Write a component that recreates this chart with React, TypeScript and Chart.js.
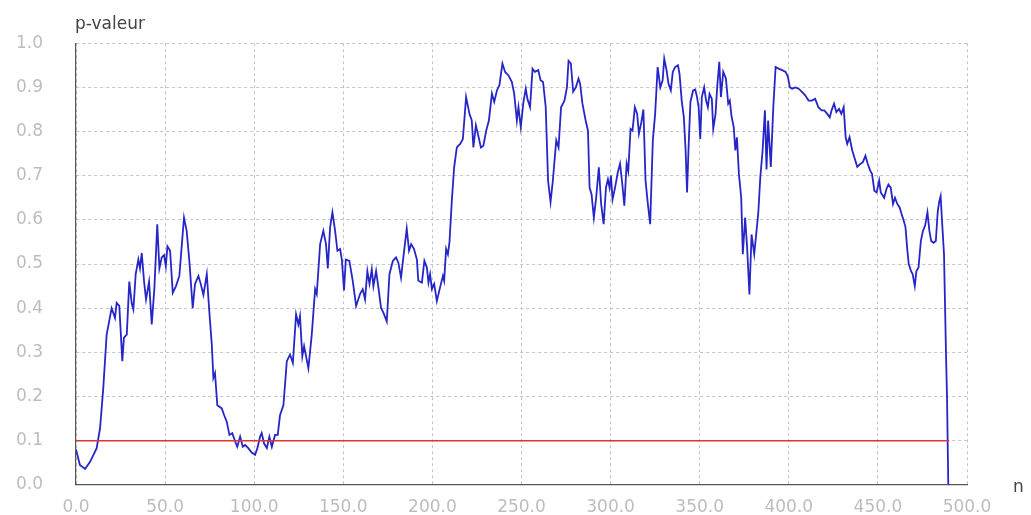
import React, { useEffect, useRef } from "react";
import { Chart, registerables } from "chart.js";

Chart.register(...registerables);

// n values (x) and p-values (y)
const nValues: number[] = [
  0, 2.2, 5.1, 7.9, 11.6, 13.5, 15.3, 17.2, 20.0, 21.9, 22.8, 24.3, 26.0, 26.9, 28.5, 29.9, 31.3, 32.2, 33.5, 35.0,
  35.9, 36.9, 38.2, 39.3, 41.0, 42.5, 44.0, 45.6, 46.8, 48.1, 49.4, 50.4, 51.3, 52.8, 54.3, 56.1, 58.0, 60.6, 62.1, 63.6,
  65.5, 66.8, 68.7, 70.0, 71.5, 73.4, 74.8, 76.2, 77.1, 78.0, 79.3, 81.8, 83.1, 84.6, 86.1, 87.7, 89.3, 90.5, 92.1, 93.6,
  94.9, 96.7, 98.6, 100.5, 101.8, 103.3, 104.2, 105.5, 107.1, 108.5, 109.9, 111.7, 113.2, 114.5, 116.4, 118.3, 120.1, 121.7, 123.5, 124.8,
  125.7, 127.0, 128.0, 130.4, 132.3, 134.2, 135.1, 137.0, 138.8, 140.3, 141.3, 142.6, 143.9, 145.4, 146.7, 148.2, 149.2, 150.4, 151.4, 153.4,
  155.3, 157.2, 159.4, 160.9, 162.2, 163.5, 164.7, 166.0, 166.9, 168.4, 169.7, 171.2, 172.5, 174.4, 175.9, 177.8, 179.6, 180.9, 182.4, 183.7,
  185.6, 186.9, 188.1, 189.7, 191.3, 192.1, 194.1, 195.5, 196.9, 197.8, 198.7, 199.7, 201.0, 202.5, 204.3, 205.9, 206.6, 207.7, 208.7, 209.6,
  210.9, 212.2, 213.7, 215.6, 217.1, 218.9, 220.8, 222.1, 223.0, 224.4, 225.8, 227.2, 228.6, 230.2, 231.7, 233.4, 234.7, 236.2, 237.6, 239.3,
  240.8, 242.7, 244.6, 245.9, 247.4, 248.3, 249.6, 251.1, 252.4, 253.3, 254.8, 256.2, 257.5, 259.4, 260.7, 262.1, 263.6, 264.9, 266.3, 267.6,
  269.5, 270.8, 272.2, 274.1, 275.5, 276.4, 277.7, 279.0, 280.5, 282.0, 282.9, 284.2, 286.0, 287.3, 288.2, 289.3, 290.6, 291.9, 293.4, 294.7,
  296.1, 297.4, 298.5, 299.4, 300.2, 301.1, 302.5, 304.0, 305.3, 306.6, 307.7, 309.0, 309.9, 311.2, 312.3, 313.6, 314.9, 315.9, 317.2, 318.4,
  319.6, 320.9, 322.2, 323.7, 325.0, 326.4, 327.9, 329.2, 330.1, 331.4, 332.5, 333.8, 334.9, 336.2, 337.8, 338.7, 339.9, 341.1, 342.1, 342.9,
  343.9, 344.8, 346.3, 347.5, 348.5, 349.4, 350.3, 351.2, 352.5, 353.6, 354.6, 355.5, 356.8, 357.6, 358.9, 359.8, 361.0, 361.9, 363.2, 364.7,
  366.0, 366.9, 367.8, 369.1, 370.0, 370.9, 372.0, 373.3, 374.2, 375.5, 376.6, 377.9, 379.1, 380.6, 382.9, 384.0, 385.3, 386.6, 387.5, 388.4,
  389.9, 391.3, 392.6, 394.5, 396.3, 398.2, 399.5, 400.6, 401.9, 403.7, 405.5, 407.4, 409.2, 411.1, 412.9, 414.8, 416.6, 418.4, 419.9, 421.6,
  423.0, 424.0, 425.4, 426.7, 428.2, 429.5, 430.8, 431.9, 432.8, 434.1, 435.6, 436.9, 438.4, 440.2, 441.5, 443.0, 444.3, 445.6, 446.7, 448.0,
  449.3, 450.7, 451.6, 453.5, 454.8, 455.9, 457.2, 458.5, 459.6, 460.9, 462.2, 463.3, 464.5, 465.5, 466.4, 467.3, 468.6, 469.5, 470.7, 471.6,
  472.8, 474.1, 475.3, 476.5, 477.8, 478.9, 479.9, 481.2, 482.5, 483.6, 484.5, 485.2, 486.1, 487.1, 488.2, 488.8, 489.5,
];

const pValues: number[] = [
  0.08, 0.045, 0.036, 0.052, 0.083, 0.128, 0.219, 0.34, 0.40, 0.378, 0.412, 0.405, 0.28, 0.333, 0.34, 0.46, 0.41, 0.397, 0.477, 0.51,
  0.49, 0.525, 0.46, 0.42, 0.46, 0.363, 0.446, 0.59, 0.49, 0.515, 0.52, 0.495, 0.54, 0.53, 0.435, 0.45, 0.473, 0.605, 0.575, 0.507,
  0.40, 0.455, 0.473, 0.455, 0.43, 0.477, 0.393, 0.318, 0.242, 0.253, 0.18, 0.173, 0.158, 0.143, 0.113, 0.117, 0.098, 0.086, 0.109, 0.086,
  0.09, 0.083, 0.073, 0.068, 0.083, 0.109, 0.117, 0.094, 0.083, 0.109, 0.086, 0.113, 0.113, 0.158, 0.18, 0.28, 0.295, 0.276, 0.386, 0.363,
  0.382, 0.291, 0.314, 0.264, 0.34, 0.443, 0.432, 0.545, 0.575, 0.545, 0.49, 0.583, 0.617, 0.575, 0.53, 0.534, 0.51, 0.44, 0.51, 0.507,
  0.462, 0.405, 0.432, 0.443, 0.42, 0.484, 0.455, 0.488, 0.45, 0.484, 0.447, 0.40, 0.39, 0.37, 0.477, 0.507, 0.515, 0.503, 0.469, 0.515,
  0.58, 0.53, 0.545, 0.534, 0.51, 0.462, 0.458, 0.507, 0.492, 0.458, 0.477, 0.443, 0.455, 0.416, 0.447, 0.473, 0.462, 0.534, 0.522, 0.55,
  0.643, 0.719, 0.764, 0.772, 0.783, 0.878, 0.84, 0.825, 0.764, 0.814, 0.79, 0.764, 0.768, 0.802, 0.825, 0.886, 0.867, 0.893, 0.905, 0.954,
  0.935, 0.927, 0.912, 0.886, 0.825, 0.855, 0.81, 0.867, 0.897, 0.874, 0.855, 0.942, 0.935, 0.939, 0.916, 0.912, 0.855, 0.689, 0.64, 0.689,
  0.78, 0.764, 0.855, 0.87, 0.90, 0.96, 0.954, 0.89, 0.90, 0.92, 0.908, 0.863, 0.825, 0.802, 0.673, 0.658, 0.605, 0.65, 0.719, 0.636,
  0.59, 0.673, 0.692, 0.673, 0.70, 0.646, 0.673, 0.707, 0.727, 0.68, 0.632, 0.727, 0.71, 0.806, 0.802, 0.855, 0.84, 0.795, 0.82, 0.85,
  0.689, 0.636, 0.59, 0.78, 0.84, 0.946, 0.90, 0.916, 0.965, 0.939, 0.908, 0.893, 0.935, 0.946, 0.95, 0.93, 0.87, 0.832, 0.757, 0.662,
  0.78, 0.867, 0.893, 0.895, 0.878, 0.855, 0.783, 0.878, 0.90, 0.87, 0.855, 0.885, 0.874, 0.806, 0.84, 0.90, 0.958, 0.878, 0.935, 0.92,
  0.863, 0.87, 0.836, 0.81, 0.757, 0.787, 0.704, 0.65, 0.522, 0.605, 0.538, 0.431, 0.567, 0.522, 0.617, 0.696, 0.757, 0.848, 0.714, 0.825,
  0.72, 0.855, 0.946, 0.942, 0.939, 0.935, 0.924, 0.90, 0.897, 0.90, 0.897, 0.89, 0.882, 0.87, 0.87, 0.874, 0.855, 0.848, 0.848, 0.84,
  0.832, 0.848, 0.863, 0.844, 0.851, 0.84, 0.855, 0.787, 0.772, 0.787, 0.757, 0.74, 0.72, 0.727, 0.73, 0.745, 0.727, 0.712, 0.704, 0.666,
  0.662, 0.689, 0.662, 0.65, 0.67, 0.68, 0.673, 0.636, 0.65, 0.636, 0.628, 0.613, 0.598, 0.583, 0.537, 0.50, 0.484, 0.477, 0.45, 0.484,
  0.492, 0.552, 0.575, 0.587, 0.617, 0.575, 0.552, 0.548, 0.552, 0.62, 0.643, 0.654, 0.59, 0.522, 0.30, 0.196, 0.0,
];

// threshold line
const thresholdX: number[] = [0, 490];
const thresholdY: number[] = [0.1, 0.1];

const xMin = 0;
const xMax = 500;
const xStep = 50;
const yMin = 0;
const yMax = 1;
const yStep = 0.1;

const yAxisTitle = "p-valeur";
const xAxisTitle = "n";

const FONT = "'DejaVu Sans', sans-serif";
const CANVAS_W = 1031;
const CANVAS_H = 528;

export default function App() {
  const canvasRef = useRef<HTMLCanvasElement | null>(null);

  useEffect(() => {
    if (!canvasRef.current) return;
    const mainData = nValues.map((n, i) => ({ x: n, y: pValues[i] }));
    const threshData = thresholdX.map((n, i) => ({ x: n, y: thresholdY[i] }));

    const titlePlugin = {
      id: "axisTitles",
      afterDraw(chart: any) {
        const ctx = chart.ctx;
        const area = chart.chartArea;
        ctx.save();
        ctx.fillStyle = "#444444";
        ctx.font = `17px ${FONT}`;
        ctx.textAlign = "left";
        ctx.textBaseline = "alphabetic";
        ctx.fillText(yAxisTitle, area.left - 1, area.top - 14);
        ctx.fillText(xAxisTitle, area.right + 46, area.bottom + 7);
        ctx.restore();
      },
    };

    const chart = new Chart(canvasRef.current, {
      type: "line",
      data: {
        datasets: [
          {
            data: threshData,
            borderColor: "#dd3535",
            borderWidth: 1.5,
            pointRadius: 0,
            fill: false,
            tension: 0,
          },
          {
            data: mainData,
            borderColor: "#2626c8",
            borderWidth: 1.8,
            pointRadius: 0,
            fill: false,
            tension: 0,
          },
        ],
      },
      options: {
        animation: false,
        responsive: false,
        maintainAspectRatio: false,
        layout: { padding: { top: 43, right: 64, left: 0, bottom: 0 } },
        plugins: {
          legend: { display: false },
          tooltip: { enabled: false },
          title: { display: false },
        },
        scales: {
          x: {
            type: "linear",
            min: xMin,
            max: xMax,
            afterFit: (scale: any) => {
              scale.height = 32;
            },
            ticks: {
              stepSize: xStep,
              color: "#bdbdbd",
              font: { family: FONT, size: 17 },
              padding: 13,
              maxRotation: 0,
              autoSkip: false,
              callback: (v: any) => Number(v).toFixed(1),
            },
            grid: { color: "#c4c4c4", drawTicks: false, lineWidth: 1 },
            border: { display: true, color: "#555555", width: 1.2, dash: [3, 3] },
          },
          y: {
            type: "linear",
            min: yMin,
            max: yMax,
            afterFit: (scale: any) => {
              scale.width = 76;
            },
            ticks: {
              stepSize: yStep,
              color: "#bdbdbd",
              font: { family: FONT, size: 17 },
              padding: 33,
              autoSkip: false,
              callback: (v: any) => Number(v).toFixed(1),
            },
            grid: { color: "#c4c4c4", drawTicks: false, lineWidth: 1 },
            border: { display: true, color: "#555555", width: 1.2, dash: [3, 3] },
          },
        },
      },
      plugins: [titlePlugin],
    });

    return () => chart.destroy();
  }, []);

  return (
    <div style={{ position: "fixed", left: 0, top: 0, width: 1031, height: 515, overflow: "hidden", background: "#ffffff" }}>
      <canvas
        ref={canvasRef}
        width={CANVAS_W}
        height={CANVAS_H}
        style={{ width: CANVAS_W, height: CANVAS_H, display: "block" }}
      />
    </div>
  );
}
